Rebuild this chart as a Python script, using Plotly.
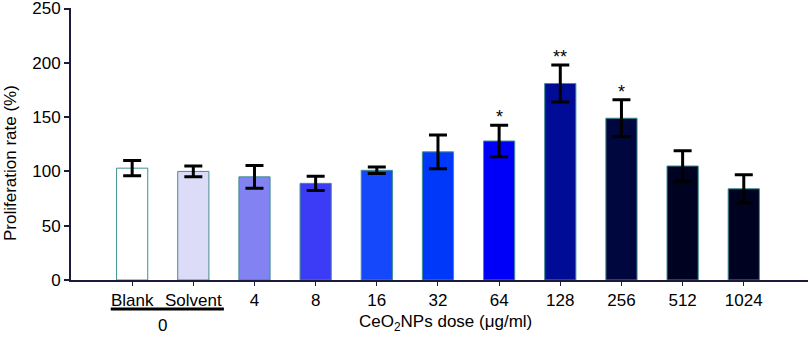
import plotly.graph_objects as go

categories = ["Blank", "Solvent", "4", "8", "16", "32", "64", "128", "256", "512", "1024"]
values = [103, 100, 95, 89, 101, 118, 128, 181, 149, 105, 84]
errors = [7, 5, 10.5, 6.5, 3, 15.5, 14.5, 17, 17, 14, 13]
stars = ["", "", "", "", "", "", "*", "**", "*", "", ""]
colors = ["#ffffff", "#dcdcf8", "#8282f2", "#3c3cf6", "#1448fa", "#0038fa",
          "#0000f8", "#000c96", "#00063e", "#000222", "#000222"]
y_ticks = [0, 50, 100, 150, 200, 250]

xs = list(range(len(categories)))
font = "Liberation Sans, Arial, sans-serif"
top, bottom = 8, 58
plot_h = 338 - top - bottom

fig = go.Figure()
fig.add_trace(go.Bar(
    x=xs, y=values, width=0.51,
    marker=dict(color=colors, line=dict(color="#3f8f8f", width=1)),
    error_y=dict(type="data", array=errors, visible=True, color="#000000",
                 thickness=3, width=9),
    showlegend=False,
))

for i, s in enumerate(stars):
    if s:
        fig.add_annotation(x=xs[i], y=values[i] + errors[i], yshift=-4, text=s,
                           showarrow=False, yanchor="bottom",
                           font=dict(family=font, size=18, color="#000"))

# group label "0" under Blank/Solvent with underline
fig.add_annotation(x=0.5, y=0, yref="paper", yshift=-45, text="0", showarrow=False,
                   yanchor="middle", font=dict(family=font, size=17, color="#000"))
fig.add_shape(type="line", xref="x", yref="paper", x0=-0.35, x1=1.5,
              y0=-29 / plot_h, y1=-29 / plot_h, line=dict(color="#000", width=3))
fig.add_annotation(x=5.13, y=0, yref="paper", yshift=-43,
                   text="CeO<sub>2</sub>NPs dose (μg/ml)", showarrow=False,
                   yanchor="middle", font=dict(family=font, size=17, color="#000"))
fig.add_annotation(x=0, xref="paper", xshift=-61, y=0.43, yref="paper",
                   text="Proliferation rate (%)", textangle=-90, showarrow=False,
                   xanchor="center", yanchor="middle",
                   font=dict(family=font, size=17, color="#000"))

fig.update_layout(
    width=810, height=338,
    margin=dict(l=71, r=2, t=top, b=bottom, autoexpand=False),
    plot_bgcolor="white", paper_bgcolor="white",
    xaxis=dict(range=[-1.0, 11.05], tickvals=xs, ticktext=categories,
               showline=True, linecolor="#1a1a3a", linewidth=2,
               ticks="outside", ticklen=4, tickcolor="#1a1a3a", tickwidth=1,
               showgrid=False, zeroline=False, automargin=False,
               tickfont=dict(family=font, size=17, color="#000")),
    yaxis=dict(range=[0, 250.5], tickvals=y_ticks, showline=True,
               linecolor="#1a1a3a", linewidth=2, ticks="outside", ticklen=5,
               tickcolor="#1a1a3a", tickwidth=2, showgrid=False, zeroline=False,
               automargin=False, ticklabeloverflow="allow",
               tickfont=dict(family=font, size=17, color="#000")),
)

fig.write_html("out.html", config={"displayModeBar": False},
               post_script="document.body.style.margin='0';document.body.style.padding='0';")
